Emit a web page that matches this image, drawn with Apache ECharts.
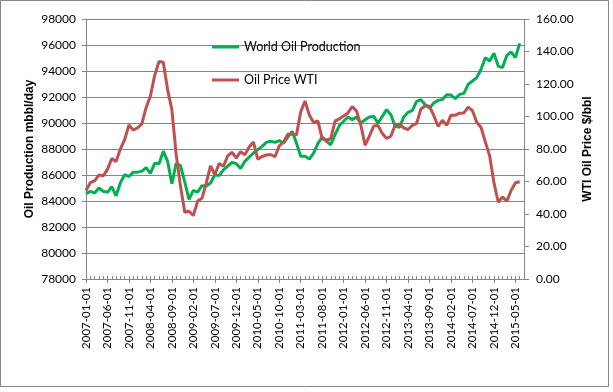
<!DOCTYPE html>
<html><head><meta charset="utf-8">
<script src="https://cdn.jsdelivr.net/npm/echarts@6/dist/echarts.min.js"></script>
<style>html,body{margin:0;padding:0;background:#fff}#c{width:613px;height:392px}</style>
</head><body><div id="c"></div>
<script>
const categories = [
'2007-01-01','2007-02-01','2007-03-01','2007-04-01','2007-05-01','2007-06-01','2007-07-01','2007-08-01','2007-09-01','2007-10-01','2007-11-01','2007-12-01',
'2008-01-01','2008-02-01','2008-03-01','2008-04-01','2008-05-01','2008-06-01','2008-07-01','2008-08-01','2008-09-01','2008-10-01','2008-11-01','2008-12-01',
'2009-01-01','2009-02-01','2009-03-01','2009-04-01','2009-05-01','2009-06-01','2009-07-01','2009-08-01','2009-09-01','2009-10-01','2009-11-01','2009-12-01',
'2010-01-01','2010-02-01','2010-03-01','2010-04-01','2010-05-01','2010-06-01','2010-07-01','2010-08-01','2010-09-01','2010-10-01','2010-11-01','2010-12-01',
'2011-01-01','2011-02-01','2011-03-01','2011-04-01','2011-05-01','2011-06-01','2011-07-01','2011-08-01','2011-09-01','2011-10-01','2011-11-01','2011-12-01',
'2012-01-01','2012-02-01','2012-03-01','2012-04-01','2012-05-01','2012-06-01','2012-07-01','2012-08-01','2012-09-01','2012-10-01','2012-11-01','2012-12-01',
'2013-01-01','2013-02-01','2013-03-01','2013-04-01','2013-05-01','2013-06-01','2013-07-01','2013-08-01','2013-09-01','2013-10-01','2013-11-01','2013-12-01',
'2014-01-01','2014-02-01','2014-03-01','2014-04-01','2014-05-01','2014-06-01','2014-07-01','2014-08-01','2014-09-01','2014-10-01','2014-11-01','2014-12-01',
'2015-01-01','2015-02-01','2015-03-01','2015-04-01','2015-05-01','2015-06-01','2015-07-01'
];
const production = [
84560,84740,84620,85000,84750,84670,85100,84400,85390,86030,85880,86220,
86220,86300,86560,86120,86900,86870,87830,87060,85330,86900,86720,85450,
84120,84810,84680,85180,85150,85380,86020,85950,86400,86680,86970,86870,
86500,87050,87380,87690,87950,88200,88510,88590,88510,88640,88460,88920,
89360,88460,87440,87440,87230,87690,88410,88920,88590,88330,89100,89800,
90130,90460,90260,90460,90000,90260,90460,90510,89980,90510,91030,90640,
89740,89670,90460,90820,90970,91670,91800,91410,91150,91540,91740,91800,
92180,92150,91870,92200,92280,92970,93230,93490,94130,95030,94770,95360,
94380,94260,95200,95460,95030,96130
];
const wtiPrice = [
54.51,59.28,60.44,63.98,63.46,67.49,74.12,72.36,79.92,85.80,94.77,91.69,
92.97,95.39,105.45,112.58,125.40,133.88,133.37,116.67,104.11,76.61,57.31,41.12,
41.71,39.09,47.94,49.65,59.03,69.64,64.15,71.05,69.41,75.72,77.99,74.47,
78.33,76.39,81.20,84.29,73.74,75.34,76.32,76.60,75.24,81.89,84.25,89.15,
89.17,88.58,102.86,109.53,100.90,96.26,97.30,86.33,85.52,86.32,97.16,98.56,
100.27,102.20,106.16,103.32,94.66,82.30,87.90,94.13,94.51,89.49,86.53,87.86,
94.76,95.31,92.94,92.02,94.51,95.77,104.67,106.57,106.29,100.54,93.86,97.63,
94.62,100.82,100.80,102.07,102.18,105.79,103.59,96.54,93.21,84.40,75.79,59.29,
47.22,50.58,47.82,54.45,59.27,59.82
];
const seriesNames = ['World Oil Production', 'Oil Price WTI'];
const leftAxisTicks = {min: 78000, max: 98000, interval: 2000};
const rightAxisTicks = {min: 0, max: 160, interval: 20};
const axisTitles = {left: 'Oil Production mbbl/day', right: 'WTI Oil Price $/bbl'};

const GRAY = '#868686';
const FONT = 'Lato';
const TITLE_FONT = 'Liberation Sans';
const chart = echarts.init(document.getElementById('c'), null, {renderer: 'canvas'});
chart.setOption({
  animation: false,
  backgroundColor: '#fff',
  graphic: [{type: 'rect', shape: {x: 0.5, y: 0.5, width: 608, height: 386}, style: {fill: 'none', stroke: GRAY, lineWidth: 1}, silent: true}],
  grid: {left: 86, right: 89, top: 19, bottom: 113, containLabel: false},
  legend: {
    orient: 'vertical', left: 207, top: 35, itemWidth: 27, itemHeight: 3, itemGap: 19, icon: 'rect',
    textStyle: {fontFamily: FONT, fontSize: 12.5, color: '#000', lineHeight: 14},
    data: seriesNames
  },
  xAxis: [{
    type: 'category', data: categories, boundaryGap: false,
    axisLine: {lineStyle: {color: GRAY, width: 1}},
    axisTick: {show: true, interval: 4, length: 4, lineStyle: {color: GRAY}},
    axisLabel: {interval: 4, rotate: 90, margin: 8, fontFamily: FONT, fontSize: 11.5, color: '#000'},
    splitLine: {show: false}
  }, {
    type: 'category', data: categories, boundaryGap: false, position: 'bottom',
    axisLine: {show: false},
    axisTick: {show: true, interval: 0, inside: true, length: 3, lineStyle: {color: GRAY}},
    axisLabel: {show: false}, splitLine: {show: false}
  }],
  yAxis: [{
    type: 'value', min: leftAxisTicks.min, max: leftAxisTicks.max, interval: leftAxisTicks.interval,
    name: axisTitles.left, nameLocation: 'middle', nameRotate: 90, nameGap: 56, nameMoveOverlap: false,
    nameTextStyle: {fontFamily: TITLE_FONT, fontWeight: 'bold', fontSize: 12, color: '#000', verticalAlign: 'middle'},
    axisLine: {show: true, lineStyle: {color: GRAY}},
    axisTick: {show: true, length: 4, lineStyle: {color: GRAY}},
    axisLabel: {margin: 10, fontFamily: FONT, fontSize: 12, color: '#000', formatter: v => String(v)},
    splitLine: {show: true, lineStyle: {color: GRAY, width: 1}}
  }, {
    type: 'value', min: rightAxisTicks.min, max: rightAxisTicks.max, interval: rightAxisTicks.interval, position: 'right',
    name: axisTitles.right, nameLocation: 'middle', nameRotate: 90, nameGap: 64, nameMoveOverlap: false,
    nameTextStyle: {fontFamily: TITLE_FONT, fontWeight: 'bold', fontSize: 12, color: '#000', verticalAlign: 'middle'},
    axisLine: {show: true, lineStyle: {color: GRAY}},
    axisTick: {show: true, length: 5, lineStyle: {color: GRAY}},
    axisLabel: {margin: 12, fontFamily: FONT, fontSize: 12, color: '#000', formatter: v => v.toFixed(2)},
    splitLine: {show: false}
  }],
  series: [{
    name: seriesNames[0], type: 'line', data: production, yAxisIndex: 0, xAxisIndex: 0,
    symbol: 'none', lineStyle: {color: '#00B050', width: 3}, itemStyle: {color: '#00B050'}
  }, {
    name: seriesNames[1], type: 'line', data: wtiPrice, yAxisIndex: 1, xAxisIndex: 0,
    symbol: 'none', lineStyle: {color: '#C0504D', width: 3}, itemStyle: {color: '#C0504D'}
  }]
});
</script></body></html>
